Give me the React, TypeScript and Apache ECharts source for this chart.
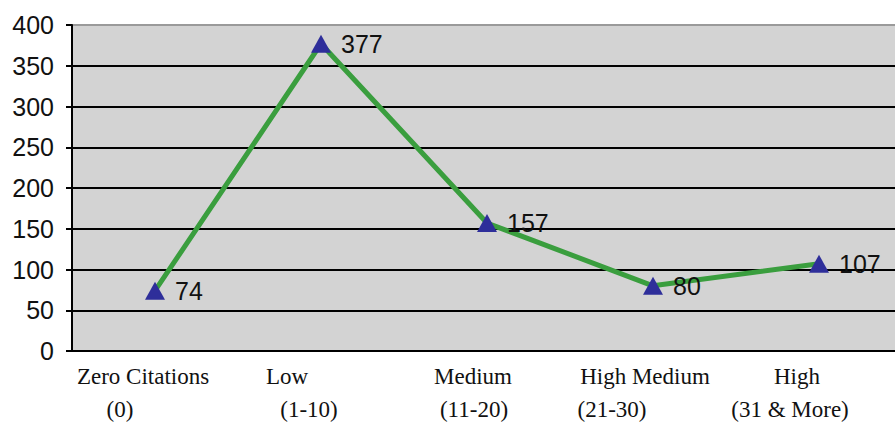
import React, { useEffect, useRef } from "react";
import * as echarts from "echarts";

// Citation groups (two lines each) and number of papers in each group
const groupNames = ["Zero Citations", "Low", "Medium", "High Medium", "High"];
const groupRanges = ["(0)", "(1-10)", "(11-20)", "(21-30)", "(31 & More)"];
const paperCounts = [74, 377, 157, 80, 107];

// Y axis scale
const yMin = 0;
const yMax = 400;
const yStep = 50;

// Horizontal nudges (px) of each label line relative to its category centre
const nameShift = [-12, -34, -14, -8, -22];
const rangeShift = [-35, -12, -13, -41, -29];

const SANS = '"Liberation Sans", Arial, sans-serif';
const SERIF = '"Liberation Serif", "Times New Roman", serif';

if (typeof document !== "undefined") {
  document.body.style.margin = "0";
}

function padFor(shift: number): number[] {
  // centred text: right padding moves it left by half, left padding moves it right
  return shift < 0 ? [0, -2 * shift, 0, 0] : [0, 0, 0, 2 * shift];
}

export default function App() {
  const ref = useRef<HTMLDivElement>(null);

  useEffect(() => {
    if (!ref.current) return;
    const chart = echarts.init(ref.current, null, { renderer: "svg" });

    const rich: Record<string, any> = {};
    groupNames.forEach((_, i) => {
      rich["n" + i] = {
        fontFamily: SERIF,
        fontSize: 23,
        color: "#111",
        lineHeight: 33,
        padding: padFor(nameShift[i]),
      };
      rich["r" + i] = {
        fontFamily: SERIF,
        fontSize: 23,
        color: "#111",
        lineHeight: 33,
        padding: padFor(rangeShift[i]),
      };
    });

    const gridLineColors = Array.from(
      { length: (yMax - yMin) / yStep + 1 },
      (_, i) => (i === (yMax - yMin) / yStep ? "#9a9a9a" : "#000")
    );

    chart.setOption({
      animation: false,
      backgroundColor: "#ffffff",
      grid: {
        left: 72,
        top: 25,
        width: 830,
        height: 326,
        outerBoundsMode: "none",
        show: true,
        backgroundColor: "#d3d3d3",
        borderWidth: 0,
      },
      xAxis: {
        type: "category",
        data: groupNames,
        boundaryGap: true,
        axisLine: { show: true, lineStyle: { color: "#000", width: 2 } },
        axisTick: { show: false },
        splitLine: { show: false },
        axisLabel: {
          interval: 0,
          margin: 9,
          formatter: (_v: string, idx: number) =>
            `{n${idx}|${groupNames[idx]}}\n{r${idx}|${groupRanges[idx]}}`,
          rich,
        },
      },
      yAxis: {
        type: "value",
        min: yMin,
        max: yMax,
        interval: yStep,
        axisLine: { show: true, lineStyle: { color: "#000", width: 2 } },
        axisTick: { show: true, length: 6, lineStyle: { color: "#000", width: 2 } },
        splitLine: {
          show: true,
          lineStyle: { color: gridLineColors, width: 2 },
        },
        axisLabel: {
          margin: 18,
          fontFamily: SANS,
          fontSize: 25,
          color: "#111",
        },
      },
      series: [
        {
          type: "line",
          data: paperCounts,
          symbol: "triangle",
          symbolSize: [20, 18],
          lineStyle: { color: "#3a9e3e", width: 5 },
          itemStyle: { color: "#2e2e9a" },
          label: {
            show: true,
            position: "right",
            distance: 10,
            fontFamily: SANS,
            fontSize: 25,
            color: "#111",
          },
          z: 3,
        },
      ],
    });

    return () => chart.dispose();
  }, []);

  return <div ref={ref} style={{ width: 895, height: 422 }} />;
}
